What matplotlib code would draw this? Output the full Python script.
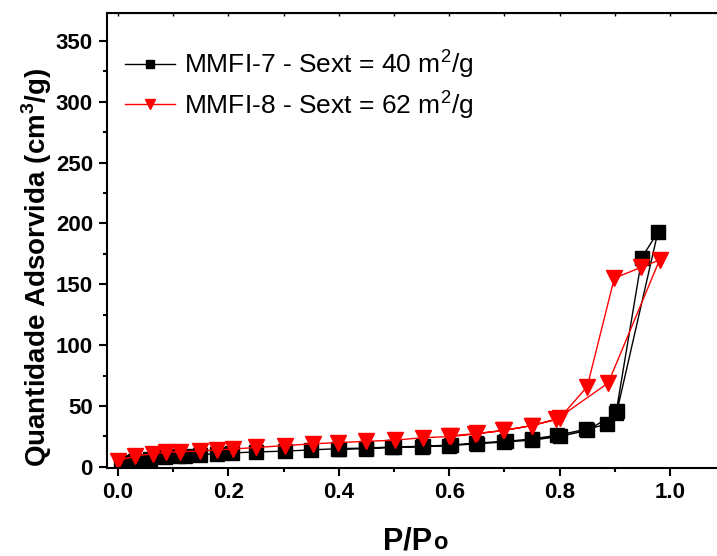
import matplotlib
matplotlib.use("Agg")
import matplotlib.pyplot as plt
from matplotlib.ticker import MultipleLocator

plt.rcParams['font.family'] = ['Liberation Sans', 'DejaVu Sans']
plt.rcParams['mathtext.fontset'] = 'custom'
plt.rcParams['mathtext.rm'] = 'Liberation Sans'
plt.rcParams['mathtext.bf'] = 'Liberation Sans:bold'

# MMFI-7 (adsorção + dessorção)
p7 = [0.005, 0.031, 0.058, 0.085, 0.108, 0.121, 0.148, 0.179, 0.206, 0.251, 0.302,
      0.35, 0.398, 0.45, 0.497, 0.552, 0.604, 0.649, 0.703, 0.75, 0.796, 0.848,
      0.886, 0.904, 0.978,
      0.949, 0.902, 0.85, 0.80, 0.75, 0.70, 0.65, 0.60, 0.55, 0.50, 0.45, 0.40]
q7 = [4, 5, 6.5, 8, 9, 9, 10, 11, 11.5, 12.3, 13,
      14, 15, 15.5, 16.4, 17, 18, 19.7, 21, 23, 26, 31,
      35, 46, 193,
      172, 44, 30, 25, 22, 20.5, 19, 17.5, 16.5, 16, 15, 14.5]

# MMFI-8 (adsorção + dessorção)
p8 = [0.0, 0.031, 0.063, 0.088, 0.112, 0.148, 0.179, 0.208, 0.251, 0.302, 0.353,
      0.398, 0.45, 0.501, 0.552, 0.604, 0.647, 0.698, 0.75, 0.794, 0.888, 0.981,
      0.948, 0.899, 0.85, 0.80, 0.75, 0.70, 0.65, 0.60]
q8 = [5, 9, 10.7, 12, 12.5, 13, 14, 14.7, 16, 17.5, 19,
      20, 21, 22, 24, 25, 27, 30, 34, 39, 69, 170,
      164, 155, 66, 40, 34, 30, 27.5, 25.5]

label7 = r'MMFI-7 - Sext = 40 m$^2$/g'
label8 = r'MMFI-8 - Sext = 62 m$^2$/g'

fig = plt.figure(figsize=(7.17, 5.56), dpi=100)
ax = fig.add_axes([0.149, 0.158, 0.851, 0.819])

ax.plot(p7, q7, color='black', marker='s', markersize=10, linewidth=1, label=label7)
ax.plot(p8, q8, color='red', marker='v', markersize=12, linewidth=1, label=label8)

ax.set_xlim(-0.02, 1.085)
ax.set_ylim(-1, 373)
ax.xaxis.set_major_locator(MultipleLocator(0.2))
ax.xaxis.set_minor_locator(MultipleLocator(0.1))
ax.yaxis.set_major_locator(MultipleLocator(50))
ax.yaxis.set_minor_locator(MultipleLocator(25))
ax.set_xticklabels([f'{v:.1f}' for v in ax.get_xticks()])

ax.spines['right'].set_visible(False)
for s in ['left', 'bottom', 'top']:
    ax.spines[s].set_linewidth(1.5)
ax.tick_params(which='major', direction='out', length=6, width=1.5, labelsize=16, pad=4)
ax.tick_params(which='minor', direction='out', length=3, width=1.5)
for lab in ax.get_xticklabels() + ax.get_yticklabels():
    lab.set_fontweight('bold')

top = ax.secondary_xaxis('top')
top.xaxis.set_major_locator(MultipleLocator(0.1))
top.tick_params(direction='in', length=2, width=1, labeltop=False)

# x label P/Po (o sobre a linha de base)
fig.text(0.6025, 0.012, 'P/P', fontsize=22, fontweight='bold', ha='right', va='baseline')
fig.text(0.604, 0.012, 'o', fontsize=17, fontweight='bold', ha='left', va='baseline')

ax.set_ylabel(r'Quantidade Adsorvida (cm$^\mathbf{3}$/g)', fontsize=20, fontweight='bold')
ax.yaxis.set_label_coords(-0.087, 0.442)

ax.legend(loc='upper left', bbox_to_anchor=(0, 0.963), frameon=False, fontsize=19,
          markerscale=0.57, handlelength=1.9, handletextpad=0.35,
          borderaxespad=0.28, labelspacing=0.27)

fig.savefig('out.png', dpi=100)
